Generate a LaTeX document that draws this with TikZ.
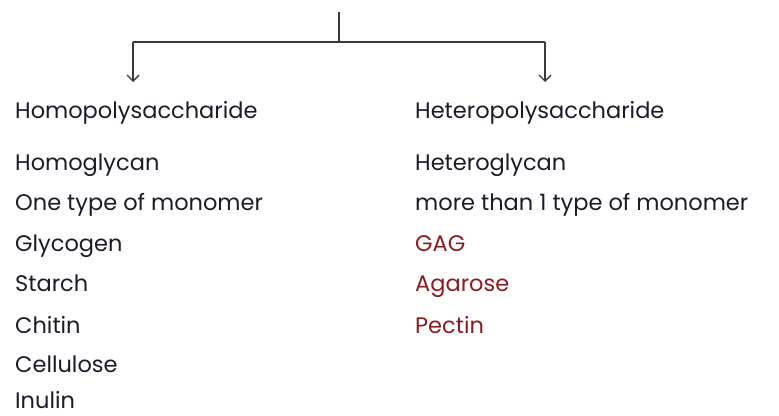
\documentclass[tikz,border=0pt]{standalone}
\usepackage{fontspec}
\setmainfont{Poppins}
\usetikzlibrary{arrows.meta}
\definecolor{ink}{HTML}{1C1C28}
\definecolor{redink}{HTML}{8A1C22}
\definecolor{lineink}{HTML}{3A3A3A}
\tikzset{
  item/.style={anchor=base west, inner sep=0pt, text=ink, font=\fontsize{22.5}{26}\selectfont},
  reditem/.style={item, text=redink},
  conn/.style={draw=lineink, line width=1.3pt},
  arr/.style={conn, -{Straight Barb[length=6pt,width=12pt,line width=1.3pt]}}
}
\begin{document}
\begin{tikzpicture}[x=1pt,y=-1pt]
\useasboundingbox (0,0) rectangle (779,415);
\coordinate (top) at (339,12);
\coordinate (mid) at (339,42);
\coordinate (lc) at (133,42);
\coordinate (rc) at (545,42);
\coordinate (la) at (133,82);
\coordinate (ra) at (545,82);
\draw[conn] (top) -- (mid);
\draw[conn] (lc) -- (rc);
\draw[arr] (lc) -- (la);
\draw[arr] (rc) -- (ra);
\node[item] (homo) at (15,118) {Homopolysaccharide};
\node[item] (homog) at (15,170) {Homoglycan};
\node[item] (one) at (15,210) {One type of monomer};
\node[item] (glyc) at (15,251) {Glycogen};
\node[item] (starch) at (15,291) {Starch};
\node[item] (chitin) at (15,333) {Chitin};
\node[item] (cell) at (15,372) {Cellulose};
\node[item] (inul) at (15,408) {Inulin};
\node[item] (hetero) at (415,118) {Heteropolysaccharide};
\node[item] (heterog) at (415,170) {Heteroglycan};
\node[item] (more) at (415,210) {more than 1 type of monomer};
\node[reditem] (gag) at (415,251) {GAG};
\node[reditem] (agar) at (415,291) {Agarose};
\node[reditem] (pect) at (415,333) {Pectin};
\end{tikzpicture}
\end{document}
